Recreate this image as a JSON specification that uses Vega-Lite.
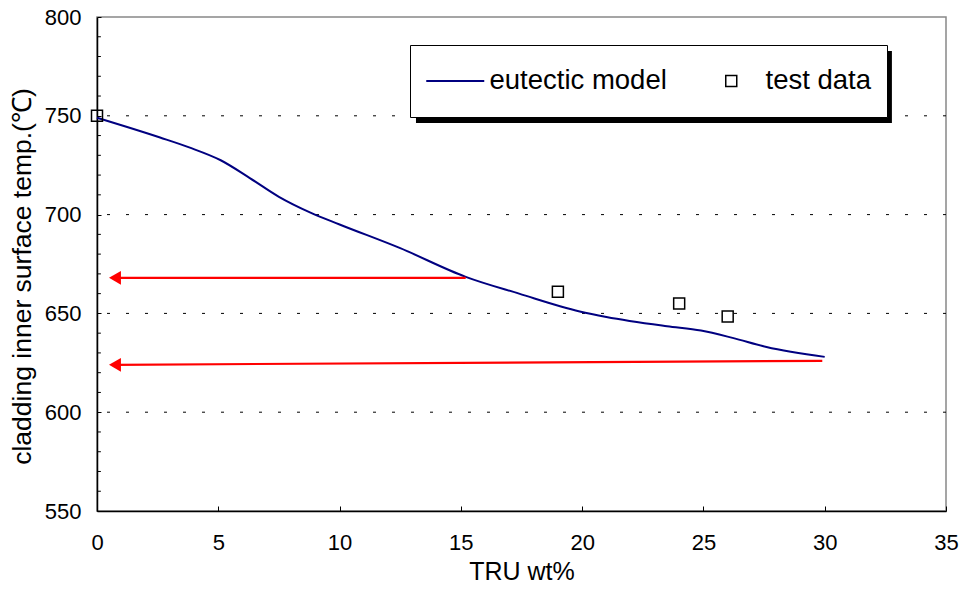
{
  "$schema": "https://vega.github.io/schema/vega-lite/v6.json",
  "width": 849,
  "height": 494,
  "autosize": {"type": "none"},
  "padding": {"left": 97, "top": 17, "right": 17, "bottom": 81},
  "background": "white",
  "config": {
    "font": "Liberation Sans",
    "view": {"stroke": "#888888", "strokeWidth": 1.5},
    "axis": {"labelFont": "Liberation Sans", "titleFont": "Liberation Sans", "labelColor": "black", "titleColor": "black", "titleFontWeight": "normal", "domainColor": "black", "domainWidth": 1.5, "tickColor": "black", "tickWidth": 1, "labelFlush": false, "labelOverlap": false}
  },
  "datasets": {
    "model": [
      {"x": 0, "y": 749, "series": "eutectic model"},
      {"x": 2.6, "y": 739, "series": "eutectic model"},
      {"x": 3.8, "y": 734, "series": "eutectic model"},
      {"x": 5.1, "y": 727.5, "series": "eutectic model"},
      {"x": 6.3, "y": 718.5, "series": "eutectic model"},
      {"x": 7.5, "y": 709, "series": "eutectic model"},
      {"x": 8.8, "y": 701, "series": "eutectic model"},
      {"x": 10, "y": 695, "series": "eutectic model"},
      {"x": 12.5, "y": 683, "series": "eutectic model"},
      {"x": 15.2, "y": 668.5, "series": "eutectic model"},
      {"x": 17.4, "y": 660, "series": "eutectic model"},
      {"x": 19.9, "y": 651, "series": "eutectic model"},
      {"x": 21, "y": 648.2, "series": "eutectic model"},
      {"x": 23.5, "y": 643.5, "series": "eutectic model"},
      {"x": 24.9, "y": 641.3, "series": "eutectic model"},
      {"x": 26.2, "y": 637.6, "series": "eutectic model"},
      {"x": 27.6, "y": 633, "series": "eutectic model"},
      {"x": 30, "y": 628, "series": "eutectic model"}
    ],
    "test": [
      {"x": 0, "y": 750, "series": "test data"},
      {"x": 19, "y": 661, "series": "test data"},
      {"x": 24, "y": 655, "series": "test data"},
      {"x": 26, "y": 648.4, "series": "test data"}
    ],
    "grid": [{"y": 600}, {"y": 650}, {"y": 700}, {"y": 750}],
    "minor": [
      {"y": 560}, {"y": 570}, {"y": 580}, {"y": 590},
      {"y": 610}, {"y": 620}, {"y": 630}, {"y": 640},
      {"y": 660}, {"y": 670}, {"y": 680}, {"y": 690},
      {"y": 710}, {"y": 720}, {"y": 730}, {"y": 740},
      {"y": 760}, {"y": 770}, {"y": 780}, {"y": 790}
    ],
    "arrows": [
      {"x": 15.2, "y": 668, "x2": 0.74, "y2": 668},
      {"x": 29.9, "y": 626, "x2": 0.74, "y2": 624}
    ]
  },
  "layer": [
    {
      "data": {"name": "grid"},
      "mark": {"type": "rule", "color": "black", "strokeWidth": 1, "strokeDash": [3, 16]},
      "encoding": {
        "y": {"field": "y", "type": "quantitative", "scale": {"domain": [550, 800], "nice": false}}
      }
    },
    {
      "data": {"name": "minor"},
      "mark": {"type": "rule", "color": "black", "strokeWidth": 1},
      "encoding": {
        "x": {"datum": 0, "type": "quantitative", "scale": {"domain": [0, 35], "nice": false}},
        "x2": {"datum": 0.16},
        "y": {"field": "y", "type": "quantitative"}
      }
    },
    {
      "data": {"values": [{}]},
      "mark": {"type": "rect", "fill": "black"},
      "encoding": {
        "x": {"datum": 13.15, "type": "quantitative"},
        "x2": {"datum": 32.77},
        "y": {"datum": 782.8, "type": "quantitative"},
        "y2": {"datum": 746.4}
      }
    },
    {
      "data": {"name": "model"},
      "mark": {"type": "line", "strokeWidth": 2, "interpolate": "monotone"},
      "encoding": {
        "x": {"field": "x", "type": "quantitative", "scale": {"domain": [0, 35], "nice": false},
          "axis": {"values": [0, 5, 10, 15, 20, 25, 30, 35], "title": "TRU wt%", "labelFontSize": 22, "titleFontSize": 25, "tickSize": -5, "labelPadding": 26, "titlePadding": 6, "grid": false, "labelOverlap": false, "labelFlush": false}},
        "y": {"field": "y", "type": "quantitative", "scale": {"domain": [550, 800], "nice": false},
          "axis": {"values": [550, 600, 650, 700, 750, 800], "labelOverlap": false, "labelFlush": false,
            "title": "cladding inner surface temp.(℃)", "labelFontSize": 22, "titleFontSize": 26.5, "titleY": 259, "tickSize": -4, "labelPadding": 20, "titlePadding": 8,
            "grid": false}},
        "color": {"field": "series", "type": "nominal",
          "scale": {"domain": ["eutectic model", "test data"], "range": ["#000080", "black"]},
          "legend": {"orient": "none", "legendX": 313, "legendY": 28, "direction": "horizontal", "title": null,
            "fillColor": "white", "strokeColor": "black", "padding": 16, "labelFontSize": 27.5, "labelFont": "Liberation Sans", "labelColor": "black",
            "symbolSize": 3364, "symbolStrokeWidth": 2, "symbolOffset": 15.5, "labelOffset": 20.5, "columnPadding": 35, "clipHeight": 40, "labelLimit": 400,
            "symbolType": "stroke",
            "encode": {"symbols": {"update": {
              "shape": {"signal": "datum.value === 'test data' ? 'square' : 'stroke'"},
              "size": {"signal": "datum.value === 'test data' ? 121 : 3364"},
              "stroke": {"signal": "datum.value === 'test data' ? 'black' : '#000080'"},
              "strokeWidth": {"signal": "datum.value === 'test data' ? 1.5 : 2"},
              "fill": {"value": "transparent"}
            }}}}
        }
      }
    },
    {
      "data": {"name": "test"},
      "mark": {"type": "point", "shape": "square", "filled": false, "size": 121, "strokeWidth": 1.5, "opacity": 1},
      "encoding": {
        "x": {"field": "x", "type": "quantitative"},
        "y": {"field": "y", "type": "quantitative"},
        "color": {"field": "series", "type": "nominal"}
      }
    },
    {
      "data": {"name": "arrows"},
      "mark": {"type": "rule", "color": "#FF0000", "strokeWidth": 2.2},
      "encoding": {
        "x": {"field": "x", "type": "quantitative"},
        "y": {"field": "y", "type": "quantitative"},
        "x2": {"field": "x2"},
        "y2": {"field": "y2"}
      }
    },
    {
      "data": {"name": "arrows"},
      "mark": {"type": "point", "shape": "triangle-left", "filled": true, "color": "#FF0000", "size": 190, "opacity": 1},
      "encoding": {
        "x": {"field": "x2", "type": "quantitative"},
        "y": {"field": "y2", "type": "quantitative"}
      }
    }
  ]
}
